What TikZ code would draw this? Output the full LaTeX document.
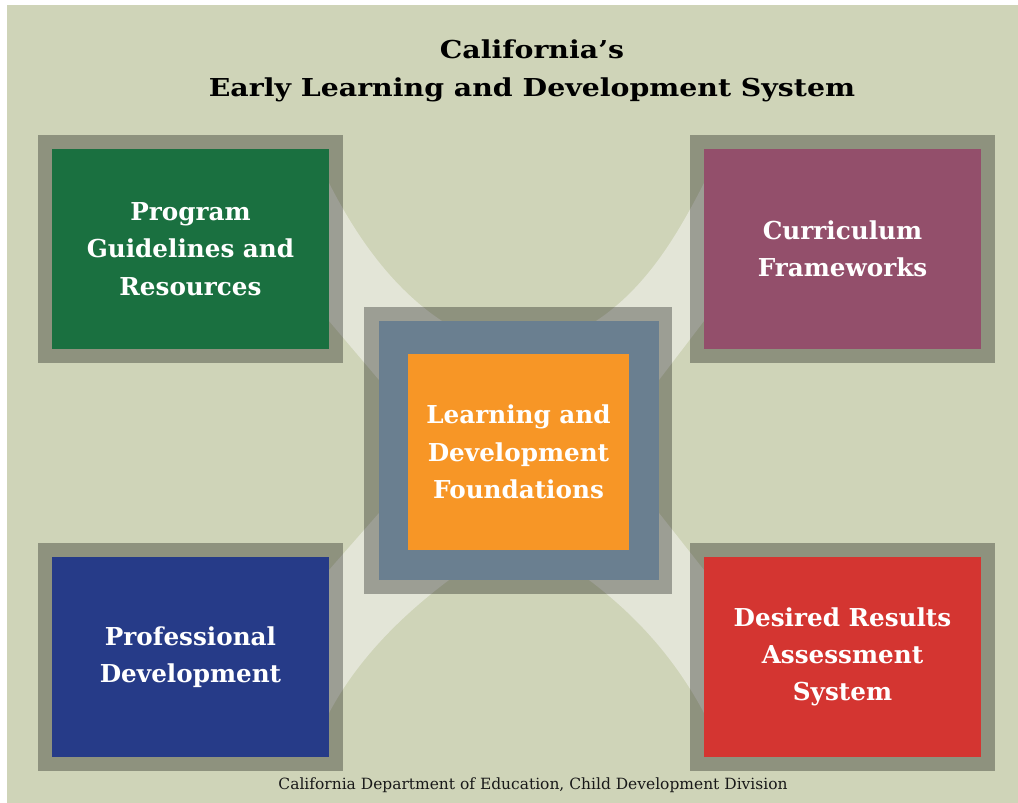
\documentclass[tikz,border=0pt]{standalone}
\usepackage{fontspec}
\setmainfont{DejaVu Serif}
\newfontfamily\titlefont{DejaVu Serif}[FakeStretch=1.15]
\definecolor{panelbg}{HTML}{CFD4B8}
\definecolor{beamlight}{HTML}{E3E5D7}
\definecolor{pgrgreen}{HTML}{1A7040}
\definecolor{cfplum}{HTML}{934F6B}
\definecolor{pdnavy}{HTML}{263B88}
\definecolor{drred}{HTML}{D43531}
\definecolor{ldfslate}{HTML}{6A7F90}
\definecolor{ldforange}{HTML}{F79626}
\tikzset{
  boxframe/.style={fill=black, fill opacity=0.31, inner sep=0pt, outer sep=0pt,
    minimum width=228.75pt, minimum height=171pt},
  boxtext/.style={text=white, align=center, inner sep=0pt, outer sep=0pt,
    font=\bfseries\fontsize{18.5}{28}\selectfont,
    minimum width=207.75pt, minimum height=150pt},
  beam/.style={fill=beamlight},
  titletext/.style={anchor=base, inner sep=0pt, font=\titlefont\bfseries\fontsize{18.5}{22}\selectfont}
}
\begin{document}
\begin{tikzpicture}[x=0.75pt, y=-0.75pt]
  % background
  \fill[white] (0,0) rectangle (1018,803);
  \fill[panelbg] (7,5) rectangle (1018,803);

  % light beams between the corners and the centre
  \fill[beam] (325,176) -- (329,183) .. controls (356,236) and (392,288) .. (442,321)
    -- (420,345) -- (379,380) -- (329,321) -- (325,321) -- cycle;
  \fill[beam] (708,176) -- (704,183) .. controls (677,236) and (646,288) .. (596,321)
    -- (618,345) -- (659,380) -- (704,321) -- (708,321) -- cycle;
  \fill[beam] (325,577) -- (329,570) -- (379,513) -- (420,560) -- (449,580)
    .. controls (401,616) and (357,660) .. (329,713) -- (325,720) -- cycle;
  \fill[beam] (708,577) -- (704,570) -- (659,513) -- (618,560) -- (589,580)
    .. controls (637,616) and (676,660) .. (704,713) -- (708,720) -- cycle;

  % title
  \node[titletext] (title1) at (532,58) {California’s};
  \node[titletext] (title2) at (532,96) {Early Learning and Development System};

  % corner boxes
  \node[boxframe] (pgrFrame) at (190.5,249) {};
  \node[boxframe] (cfFrame) at (842.5,249) {};
  \node[boxframe] (pdFrame) at (190.5,657) {};
  \node[boxframe] (drFrame) at (842.5,657) {};
  \node[boxtext, fill=pgrgreen] (pgr) at (pgrFrame.center) {Program\\Guidelines and\\Resources};
  \node[boxtext, fill=cfplum] (cf) at (cfFrame.center) {Curriculum\\Frameworks};
  \node[boxtext, fill=pdnavy] (pd) at (pdFrame.center) {Professional\\Development};
  \node[boxtext, fill=drred] (dr) at (drFrame.center) {Desired Results\\Assessment\\System};

  % centre box
  \node[boxframe, minimum width=231pt, minimum height=215.25pt] (ldfFrame) at (518,450.5) {};
  \node[fill=ldfslate, inner sep=0pt, minimum width=210pt, minimum height=194.25pt] (ldfRing) at (519,450.5) {};
  \node[boxtext, fill=ldforange, minimum width=165.75pt, minimum height=147pt] (ldf) at (518.5,452)
    {Learning and\\Development\\Foundations};

  % footer
  \node[anchor=base, inner sep=0pt, text=black!90, font=\fontsize{11.6}{13}\selectfont] (credit) at (533,789)
    {California Department of Education, Child Development Division};
\end{tikzpicture}
\end{document}
